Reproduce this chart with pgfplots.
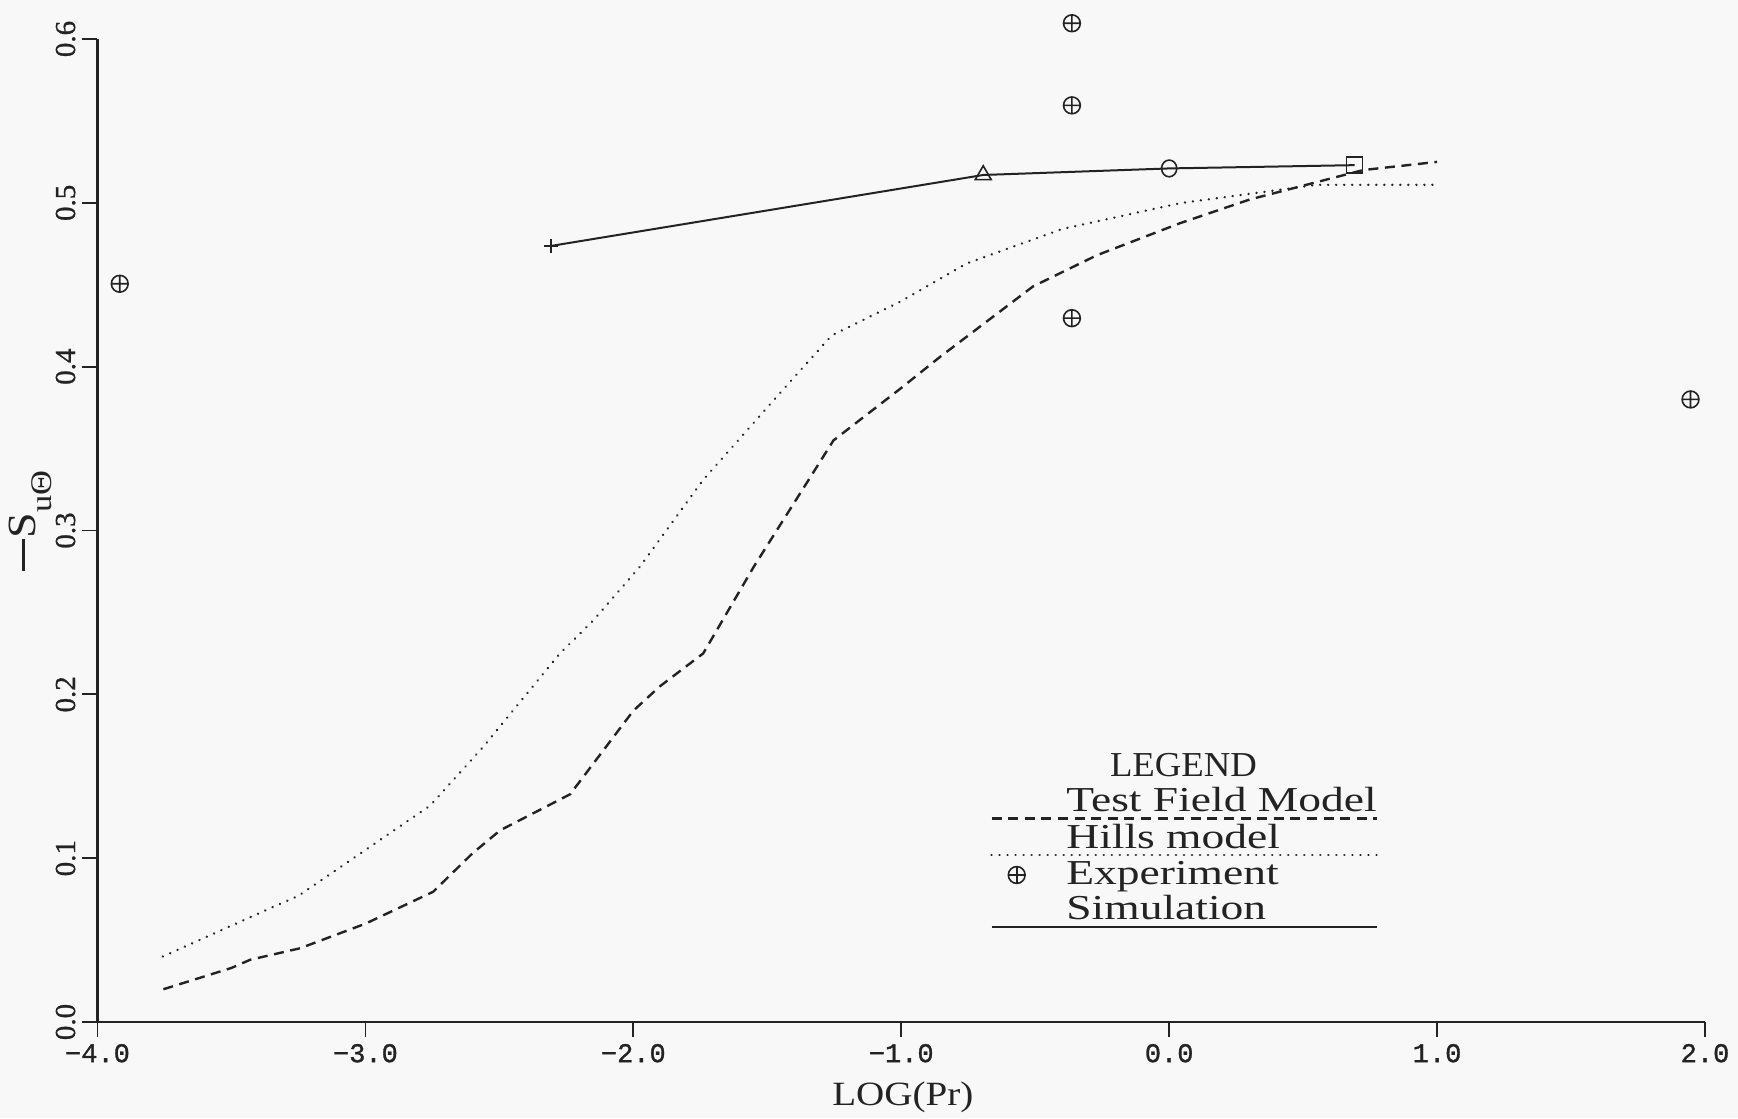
\documentclass[border=0pt]{standalone}
\usepackage{fontspec}
\setmainfont{Liberation Serif}
\newfontfamily\lgfont[FakeStretch=1.3]{Liberation Serif}
\newfontfamily\ttlfont[FakeStretch=1.05]{Liberation Serif}
\newfontfamily\labfont[FakeStretch=1.15]{Liberation Serif}
\newfontfamily\ytfont[FakeBold=0.8]{Liberation Serif}
\newfontfamily\monofont[FakeBold=1.2]{Liberation Mono}
\usepackage{pgfplots}
\pgfplotsset{compat=1.18}
\usetikzlibrary{backgrounds}

\definecolor{ink}{RGB}{35,35,35}
\definecolor{paper}{RGB}{248,248,248}

\tikzset{
  tfm/.style={ink, line width=1.2pt, dash pattern=on 5pt off 3.3pt},
  hills/.style={ink, line width=1.3pt, line cap=round, dash pattern=on 0.01pt off 4pt},
  simline/.style={ink, line width=1pt},
}

% Test Field Model
\pgfplotstableread{
x y
-3.754 0.020
-3.500 0.033
-3.430 0.038
-3.244 0.045
-3.000 0.060
-2.747 0.0795
-2.600 0.103
-2.497 0.117
-2.236 0.139
-2.000 0.190
-1.900 0.205
-1.739 0.225
-1.550 0.278
-1.353 0.329
-1.253 0.355
-1.000 0.387
-0.855 0.406
-0.508 0.449
-0.270 0.468
 0.041 0.4876
 0.300 0.502
 0.724 0.520
 1.000 0.525
}\tfmdata

% Hills model
\pgfplotstableread{
x y
-3.756 0.040
-3.356 0.0694
-3.250 0.077
-2.759 0.132
-2.560 0.168
-2.274 0.225
-2.150 0.245
-1.975 0.278
-1.739 0.331
-1.452 0.384
-1.260 0.419
-1.000 0.440
-0.756 0.463
-0.400 0.484
 0.041 0.4998
 0.551 0.511
 1.000 0.511
}\hillsdata

% Experiment
\pgfplotstableread{
x y
-3.917 0.4506
-0.363 0.6096
-0.363 0.5595
-0.363 0.4296
 1.946 0.380
}\expdata

% Simulation
\pgfplotstableread{
x y
-2.307 0.4737
-0.694 0.517
 0.000 0.521
 0.692 0.523
}\simdata

\begin{document}
\begin{tikzpicture}
\begin{axis}[
  at={(0pt,0pt)}, anchor=south west,
  scale only axis, width=803.75pt, height=491.5pt,
  xmin=-4, xmax=2, ymin=0, ymax=0.6,
  clip=false,
  axis x line=bottom, axis y line=left,
  axis line style={-, line width=1.2pt, ink},
  tick align=outside, major tick length=7.5pt,
  tick style={line width=0.9pt, ink},
  xtick={-4,-3,-2,-1,0,1,2},
  xticklabels={−4.0,−3.0,−2.0,−1.0,0.0,1.0,2.0},
  ytick={0,0.1,0.2,0.3,0.4,0.5,0.6},
  yticklabels={0.0,0.1,0.2,0.3,0.4,0.5,0.6},
  xticklabel style={font=\monofont\fontsize{13.5}{14}\selectfont, text=ink},
  yticklabel style={rotate=90, anchor=south, font=\ytfont\fontsize{14.5}{15}\selectfont, text=ink},
  xlabel={LOG(Pr)},
  ylabel={\rule[0.28em]{0.8em}{0.06em}S\raisebox{-0.4em}{\fontsize{15}{15}\selectfont uΘ}},
  x label style={at={(axis description cs:0.501,0)}, anchor=center, yshift=-37.5pt,
    font=\labfont\fontsize{17}{18}\selectfont, text=ink},
  y label style={at={(axis description cs:-0.0415,0.51)}, anchor=center,
    font=\labfont\fontsize{20}{22}\selectfont, text=ink},
]
\addplot[tfm] table {\tfmdata};
\addplot[hills] table {\hillsdata};
\addplot[only marks, mark=oplus, mark size=4.2pt, mark options={ink, line width=0.8pt}] table {\expdata};
\addplot[simline] table {\simdata};
% one symbol per simulation run
\addplot[only marks, mark=+, mark size=3.4pt, mark options={ink, line width=0.9pt}]
  table {
x y
-2.307 0.4737
};
\addplot[only marks, mark=triangle, mark size=4.6pt, mark options={ink, line width=0.8pt, fill=none}]
  table {
x y
-0.694 0.517
};
\addplot[only marks, mark=o, mark size=3.8pt, mark options={ink, line width=0.8pt, yscale=1.1}]
  table {
x y
0.000 0.521
};
\addplot[only marks, mark=square, mark size=4pt, mark options={ink, line width=0.8pt}]
  table {
x y
0.692 0.523
};
\end{axis}

% legend block
\node[ink, font=\ttlfont\fontsize{17.5}{18}\selectfont, anchor=base] at (543pt,122.7pt) {LEGEND};
\node[ink, font=\lgfont\fontsize{17.5}{18}\selectfont, anchor=base west, inner sep=0pt] at (484.25pt,105.2pt) {Test Field Model};
\draw[tfm] (447pt,101.8pt) -- (639.6pt,101.8pt);
\node[ink, font=\lgfont\fontsize{17.5}{18}\selectfont, anchor=base west, inner sep=0pt] at (484.25pt,86.8pt) {Hills model};
\draw[hills] (447pt,83.5pt) -- (639.6pt,83.5pt);
\draw[ink, line width=0.8pt] (459.6pt,73.5pt) circle (4.2pt);
\draw[ink, line width=0.8pt] (455.4pt,73.5pt) -- (463.8pt,73.5pt) (459.6pt,69.3pt) -- (459.6pt,77.7pt);
\node[ink, font=\lgfont\fontsize{17.5}{18}\selectfont, anchor=base west, inner sep=0pt] at (484.25pt,68.5pt) {Experiment};
\node[ink, font=\lgfont\fontsize{17.5}{18}\selectfont, anchor=base west, inner sep=0pt] at (484.25pt,51pt) {Simulation};
\draw[simline] (447pt,47.7pt) -- (639.6pt,47.7pt);

\pgfresetboundingbox
\useasboundingbox (-48.75pt,-48pt) rectangle (820.25pt,511pt);
\begin{pgfonlayer}{background}
  \fill[paper] (-48.75pt,-48pt) rectangle (820.25pt,511pt);
\end{pgfonlayer}
\end{tikzpicture}
\end{document}
